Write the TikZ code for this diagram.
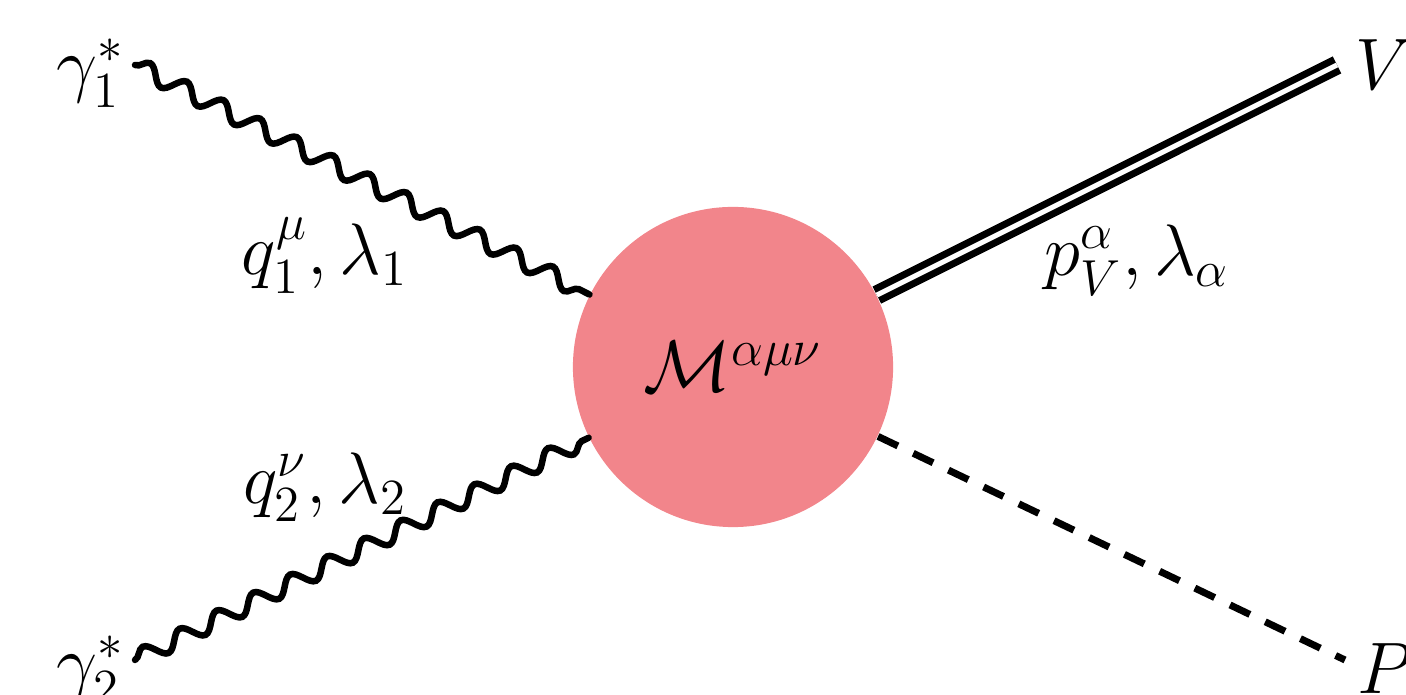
\documentclass[tikz,border=0pt]{standalone}
\usepackage{amsmath}
\usetikzlibrary{decorations.pathmorphing,positioning,calc}
\definecolor{blobred}{RGB}{242,133,139}
\tikzset{
    photon/.style={
        decorate,                 % línea ondulada
        decoration={snake, segment length=0.41cm, amplitude=0.085cm},
        line width=0.065cm,       % trazo grueso
        line cap=round
    },
    vectorline/.style={
        double,                   % dos trazos paralelos
        double distance=0.05cm,
        line width=0.07cm
    },
    scalarline/.style={
        dash pattern=on 0.22cm off 0.17cm, % guiones
        line width=0.07cm
    },
    blob/.style={
        circle,
        fill=#1,                  % relleno del vértice
        minimum size=3.2cm,
        inner sep=0pt
    },
    lbl/.style={
        font=\fontsize{20.5}{24}\selectfont,
        inner sep=0pt
    }
}
\begin{document}
\begin{tikzpicture}[x=0.01cm, y=-0.01cm, every node/.style={lbl}]
    \useasboundingbox (0,0) rectangle (1406,695);

    \node[blob=blobred] (vert) at (733,367) {$\mathcal{M}^{\alpha\mu\nu}$};

    \coordinate (in1) at (135,65);
    \coordinate (in2) at (135,660);
    \coordinate (outV) at (1337,65);
    \coordinate (outP) at (1345,660);

    \node[left=0.1cm of in1, yshift=-0.08cm] (gam1) {$\gamma_1^*$};
    \node[left=0.1cm of in2, yshift=-0.1cm] (gam2) {$\gamma_2^*$};
    \node[right=0.18cm of outV] (vmes) {$V$};
    \node[right=0.12cm of outP, yshift=-0.085cm] (pmes) {$P$};

    \node (mom1) at (325,256) {$q_1^{\mu}, \lambda_1$};
    \node (mom2) at (325,487) {$q_2^{\nu}, \lambda_2$};
    \node (momV) at (1137,260) {$p_V^{\alpha}, \lambda_\alpha$};

    \draw[photon] (in1) -- (vert);
    \draw[photon] (in2) -- (vert);
    \draw[vectorline] (vert) -- (outV);
    \draw[scalarline] (vert) -- (outP);
\end{tikzpicture}
\end{document}
